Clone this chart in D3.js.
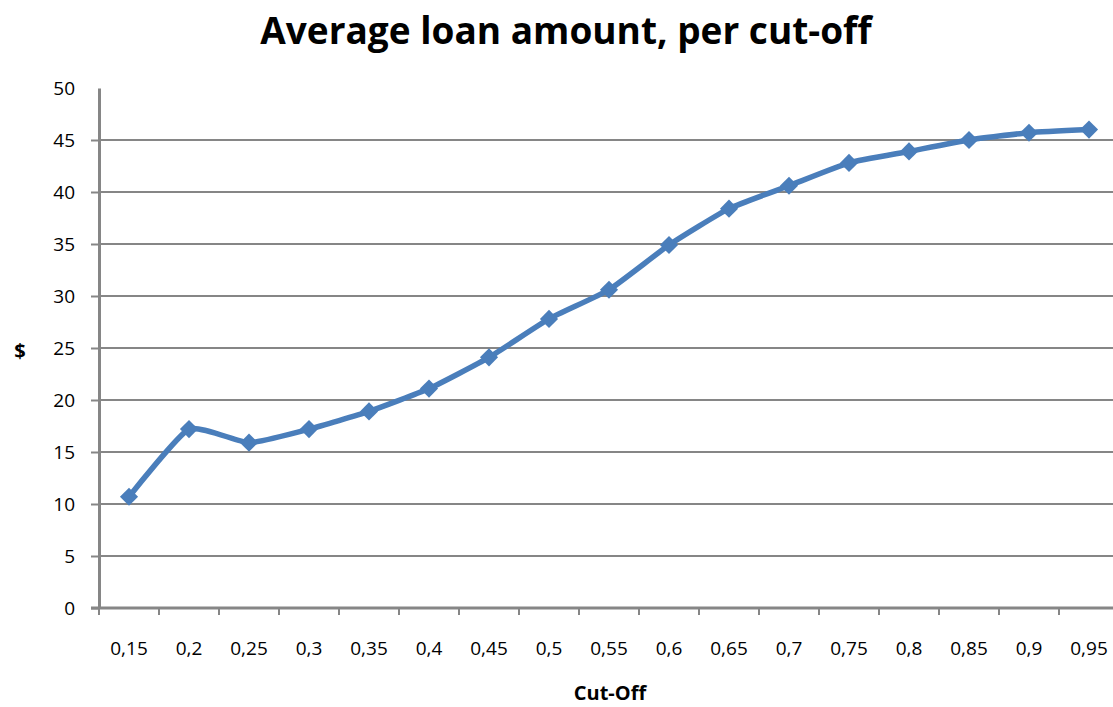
<!DOCTYPE html>
<html>
<head>
<meta charset="utf-8">
<script src="https://cdn.jsdelivr.net/npm/d3@7"></script>
<style>
  html, body { margin: 0; padding: 0; background: #fff; }
  svg { display: block; }
</style>
</head>
<body>
<svg id="chart" width="1113" height="707"></svg>
<script>
// Cut-off thresholds and the average loan amount at each one
const cutoffs = ["0,15","0,2","0,25","0,3","0,35","0,4","0,45","0,5","0,55","0,6","0,65","0,7","0,75","0,8","0,85","0,9","0,95"];
const avgLoan = [10.7, 17.2, 15.9, 17.2, 18.9, 21.1, 24.1, 27.8, 30.6, 34.9, 38.4, 40.6, 42.8, 43.9, 45.0, 45.7, 46.0];
const yTicks = [0, 5, 10, 15, 20, 25, 30, 35, 40, 45, 50];

const titleText = "Average loan amount, per cut-off";
const xTitle = "Cut-Off";
const yTitle = "$";

const svg = d3.select("#chart");
const plotLeft = 99, plotRight = 1119, plotTop = 88, plotBottom = 608;

const x = d3.scaleBand().domain(cutoffs).range([plotLeft, plotRight]).paddingInner(0).paddingOuter(0);
const y = d3.scaleLinear().domain([0, 50]).range([plotBottom, plotTop]);

const grey = "#868686";
const blue = "#4a7ebb";
const font = "'Open Sans', 'DejaVu Sans', sans-serif";

// Horizontal gridlines (none at the top value)
svg.append("g")
  .selectAll("line")
  .data(yTicks.filter(t => t > 0 && t < 50))
  .join("line")
  .attr("x1", plotLeft).attr("x2", 1113)
  .attr("y1", d => y(d)).attr("y2", d => y(d))
  .attr("stroke", grey).attr("stroke-width", 2);

// Y axis
const yAxis = svg.append("g")
  .attr("transform", `translate(${plotLeft},0)`)
  .call(d3.axisLeft(y).tickValues(yTicks).tickSize(8).tickPadding(16).tickSizeOuter(0));
yAxis.select(".domain").attr("stroke", grey).attr("stroke-width", 3);
yAxis.selectAll(".tick line").attr("stroke", grey).attr("stroke-width", 2);
yAxis.selectAll(".tick text")
  .attr("font-family", font).attr("font-size", 19).attr("fill", "#000");
// the top tick has no tick mark
yAxis.selectAll(".tick").filter(d => d === 50).select("line").remove();

// X axis: tick marks on category boundaries, labels centred in each band
const xg = svg.append("g").attr("transform", `translate(0,${plotBottom})`);
xg.append("line")
  .attr("x1", plotLeft - 8).attr("x2", 1113)
  .attr("y1", 0).attr("y2", 0)
  .attr("stroke", grey).attr("stroke-width", 3);
xg.selectAll("line.tk")
  .data(cutoffs)
  .join("line")
  .attr("class", "tk")
  .attr("x1", d => x(d)).attr("x2", d => x(d))
  .attr("y1", 0).attr("y2", 7)
  .attr("stroke", grey).attr("stroke-width", 2);
xg.selectAll("text")
  .data(cutoffs)
  .join("text")
  .attr("x", d => x(d) + x.bandwidth() / 2)
  .attr("y", 47)
  .attr("text-anchor", "middle")
  .attr("font-family", font).attr("font-size", 19).attr("fill", "#000")
  .text(d => d);

// Series line
const line = d3.line()
  .x((d, i) => x(cutoffs[i]) + x.bandwidth() / 2)
  .y(d => y(d))
  .curve(d3.curveCardinal.tension(0.5));

svg.append("path")
  .datum(avgLoan)
  .attr("d", line)
  .attr("fill", "none")
  .attr("stroke", blue)
  .attr("stroke-width", 5.5)
  .attr("stroke-linejoin", "round");

// Diamond markers
const diamond = d3.symbol().type(d3.symbolDiamond2).size(210);
svg.append("g")
  .selectAll("path")
  .data(avgLoan)
  .join("path")
  .attr("transform", (d, i) => `translate(${x(cutoffs[i]) + x.bandwidth() / 2},${y(d)})`)
  .attr("d", diamond)
  .attr("fill", blue);

// Titles
svg.append("text")
  .attr("x", 566).attr("y", 44)
  .attr("text-anchor", "middle")
  .attr("font-family", font).attr("font-weight", "bold").attr("font-size", 37)
  .attr("fill", "#000")
  .text(titleText);

svg.append("text")
  .attr("x", 610).attr("y", 700)
  .attr("text-anchor", "middle")
  .attr("font-family", font).attr("font-weight", "bold").attr("font-size", 20)
  .attr("fill", "#000")
  .text(xTitle);

svg.append("text")
  .attr("x", 20).attr("y", 358)
  .attr("text-anchor", "middle")
  .attr("font-family", font).attr("font-weight", "bold").attr("font-size", 20)
  .attr("fill", "#000")
  .text(yTitle);
</script>
</body>
</html>
